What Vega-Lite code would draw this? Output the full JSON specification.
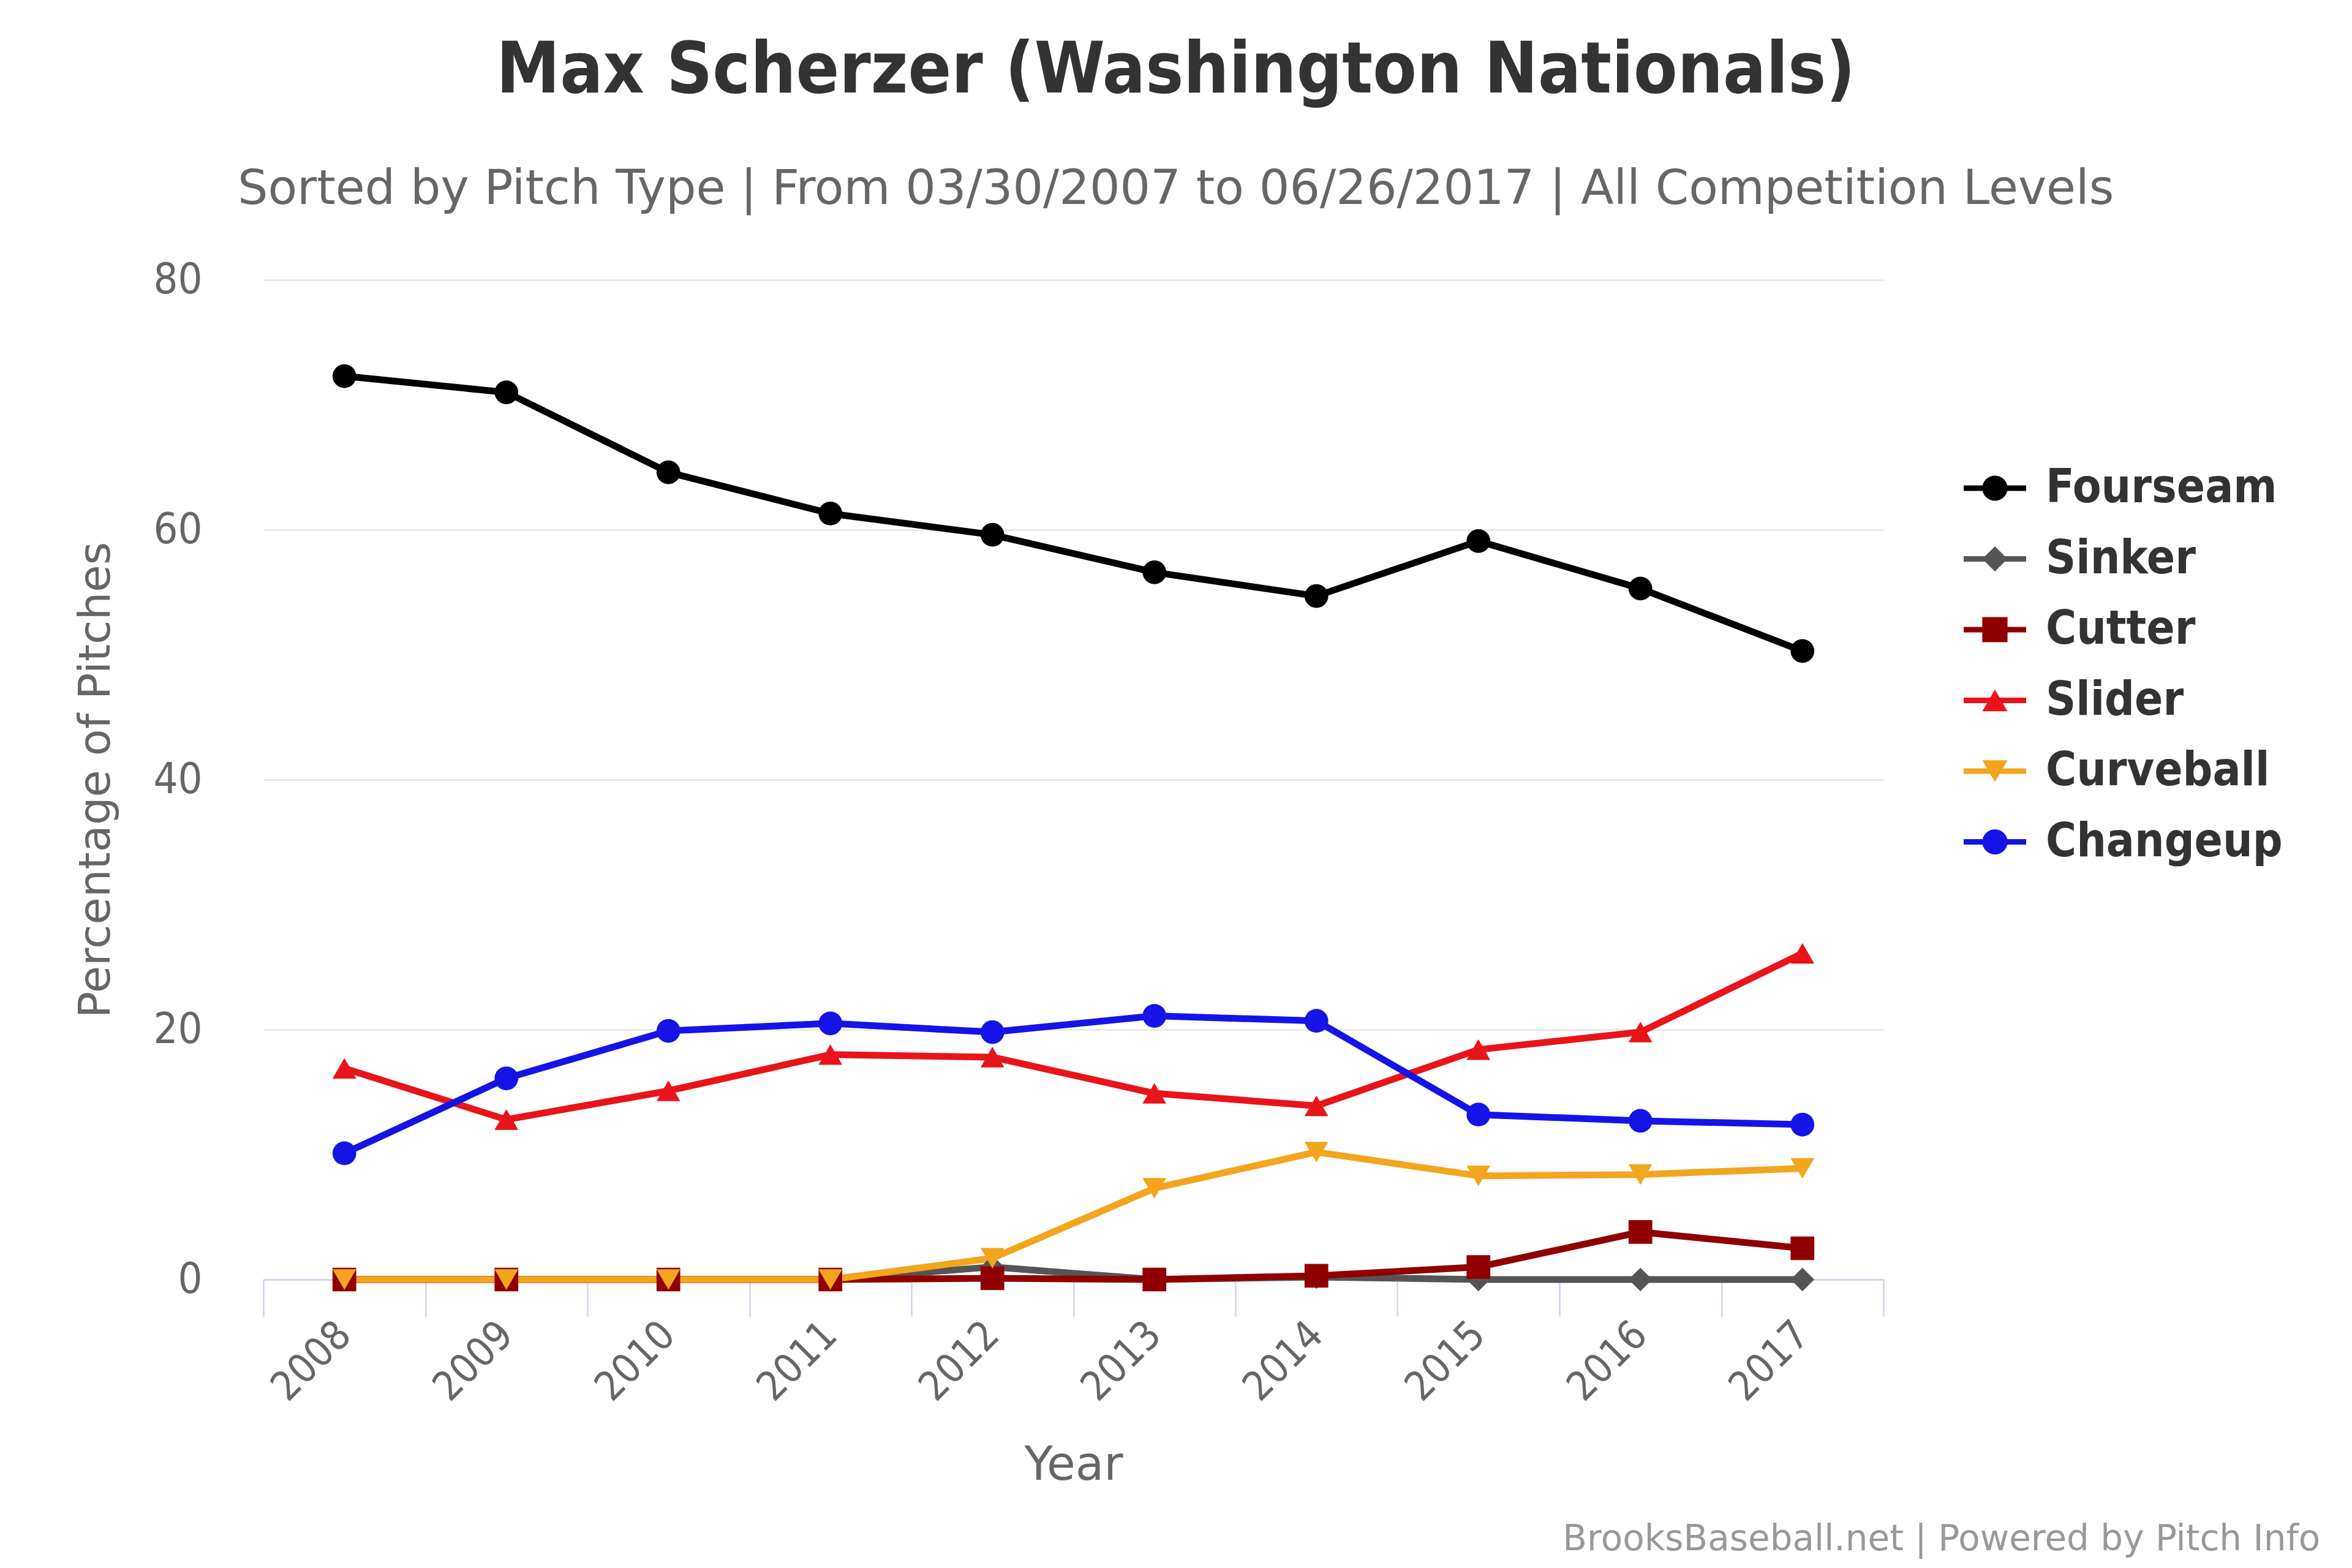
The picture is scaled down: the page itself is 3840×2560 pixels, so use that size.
{
  "$schema": "https://vega.github.io/schema/vega-lite/v6.json",
  "background": "white",
  "padding": {"left": 120, "top": 58, "right": 20, "bottom": 10},
  "title": {
    "text": "Max Scherzer (Washington Nationals)",
    "subtitle": "Sorted by Pitch Type | From 03/30/2007 to 06/26/2017 | All Competition Levels",
    "anchor": "middle",
    "frame": "bounds",
    "dx": -35,
    "font": "DejaVu Sans Condensed",
    "fontSize": 116,
    "fontWeight": "bold",
    "color": "#333333",
    "subtitleFont": "DejaVu Sans",
    "subtitleFontSize": 78,
    "subtitleColor": "#666666",
    "subtitlePadding": 96,
    "offset": 72
  },
  "vconcat": [
    {
      "width": 2645,
      "height": 1632,
      "title": {
        "text": "BrooksBaseball.net | Powered by Pitch Info",
        "orient": "bottom",
        "anchor": "end",
        "frame": "bounds",
        "font": "DejaVu Sans",
        "fontSize": 58,
        "fontWeight": "normal",
        "color": "#999999",
        "offset": 55,
        "dx": 558
      },
      "data": {
        "values": [
          {"year": 2008, "pitch": "Fourseam", "pct": 72.3},
          {"year": 2009, "pitch": "Fourseam", "pct": 71.0},
          {"year": 2010, "pitch": "Fourseam", "pct": 64.6},
          {"year": 2011, "pitch": "Fourseam", "pct": 61.3},
          {"year": 2012, "pitch": "Fourseam", "pct": 59.6},
          {"year": 2013, "pitch": "Fourseam", "pct": 56.6},
          {"year": 2014, "pitch": "Fourseam", "pct": 54.7},
          {"year": 2015, "pitch": "Fourseam", "pct": 59.1},
          {"year": 2016, "pitch": "Fourseam", "pct": 55.3},
          {"year": 2017, "pitch": "Fourseam", "pct": 50.3},
          {"year": 2008, "pitch": "Sinker", "pct": 0},
          {"year": 2009, "pitch": "Sinker", "pct": 0},
          {"year": 2010, "pitch": "Sinker", "pct": 0},
          {"year": 2011, "pitch": "Sinker", "pct": 0},
          {"year": 2012, "pitch": "Sinker", "pct": 1.0},
          {"year": 2013, "pitch": "Sinker", "pct": 0},
          {"year": 2014, "pitch": "Sinker", "pct": 0.2},
          {"year": 2015, "pitch": "Sinker", "pct": 0},
          {"year": 2016, "pitch": "Sinker", "pct": 0},
          {"year": 2017, "pitch": "Sinker", "pct": 0},
          {"year": 2008, "pitch": "Cutter", "pct": 0},
          {"year": 2009, "pitch": "Cutter", "pct": 0},
          {"year": 2010, "pitch": "Cutter", "pct": 0},
          {"year": 2011, "pitch": "Cutter", "pct": 0},
          {"year": 2012, "pitch": "Cutter", "pct": 0.1},
          {"year": 2013, "pitch": "Cutter", "pct": 0},
          {"year": 2014, "pitch": "Cutter", "pct": 0.3},
          {"year": 2015, "pitch": "Cutter", "pct": 1.0},
          {"year": 2016, "pitch": "Cutter", "pct": 3.8},
          {"year": 2017, "pitch": "Cutter", "pct": 2.5},
          {"year": 2008, "pitch": "Slider", "pct": 16.9},
          {"year": 2009, "pitch": "Slider", "pct": 12.8},
          {"year": 2010, "pitch": "Slider", "pct": 15.1},
          {"year": 2011, "pitch": "Slider", "pct": 18.0},
          {"year": 2012, "pitch": "Slider", "pct": 17.8},
          {"year": 2013, "pitch": "Slider", "pct": 14.9},
          {"year": 2014, "pitch": "Slider", "pct": 13.9},
          {"year": 2015, "pitch": "Slider", "pct": 18.4},
          {"year": 2016, "pitch": "Slider", "pct": 19.8},
          {"year": 2017, "pitch": "Slider", "pct": 26.1},
          {"year": 2008, "pitch": "Curveball", "pct": 0},
          {"year": 2009, "pitch": "Curveball", "pct": 0},
          {"year": 2010, "pitch": "Curveball", "pct": 0},
          {"year": 2011, "pitch": "Curveball", "pct": 0},
          {"year": 2012, "pitch": "Curveball", "pct": 1.7},
          {"year": 2013, "pitch": "Curveball", "pct": 7.3},
          {"year": 2014, "pitch": "Curveball", "pct": 10.2},
          {"year": 2015, "pitch": "Curveball", "pct": 8.3},
          {"year": 2016, "pitch": "Curveball", "pct": 8.4},
          {"year": 2017, "pitch": "Curveball", "pct": 8.9},
          {"year": 2008, "pitch": "Changeup", "pct": 10.1},
          {"year": 2009, "pitch": "Changeup", "pct": 16.1},
          {"year": 2010, "pitch": "Changeup", "pct": 19.9},
          {"year": 2011, "pitch": "Changeup", "pct": 20.5},
          {"year": 2012, "pitch": "Changeup", "pct": 19.8},
          {"year": 2013, "pitch": "Changeup", "pct": 21.1},
          {"year": 2014, "pitch": "Changeup", "pct": 20.7},
          {"year": 2015, "pitch": "Changeup", "pct": 13.2},
          {"year": 2016, "pitch": "Changeup", "pct": 12.7},
          {"year": 2017, "pitch": "Changeup", "pct": 12.4}
        ]
      },
      "encoding": {
        "x": {
          "field": "year",
          "type": "quantitative",
          "scale": {"domain": [2007.5, 2017.5], "nice": false, "zero": false},
          "axis": {
            "title": "Year",
            "values": [2007.5, 2008.5, 2009.5, 2010.5, 2011.5, 2012.5, 2013.5, 2014.5, 2015.5, 2016.5, 2017.5],
            "labelExpr": "datum.value < 2017 ? format(datum.value + 0.5, 'd') : ''",
            "labelOffset": 132,
            "labelAngle": -45,
            "labelAlign": "right",
            "labelBaseline": "middle",
            "labelFlush": false,
            "labelOverlap": false,
            "labelBound": false,
            "labelPadding": 20,
            "labelFont": "DejaVu Sans Condensed",
            "labelFontSize": 66,
            "labelColor": "#666666",
            "grid": false,
            "ticks": true,
            "tickSize": 60,
            "tickWidth": 2.5,
            "tickColor": "#ccd6eb",
            "domainColor": "#ccd6eb",
            "domainWidth": 2.5,
            "titleFont": "DejaVu Sans",
            "titleFontSize": 76,
            "titleFontWeight": "normal",
            "titleColor": "#666666",
            "titlePadding": 66
          }
        },
        "y": {
          "field": "pct",
          "type": "quantitative",
          "scale": {"domain": [0, 80], "nice": false},
          "axis": {
            "title": "Percentage of Pitches",
            "values": [0, 20, 40, 60, 80],
            "domain": false,
            "ticks": false,
            "grid": true,
            "gridColor": "#e6e6e6",
            "gridWidth": 2.5,
            "labelPadding": 100,
            "labelFont": "DejaVu Sans Condensed",
            "labelFontSize": 70,
            "labelColor": "#666666",
            "titleFont": "DejaVu Sans",
            "titleFontSize": 72,
            "titleFontWeight": "normal",
            "titleColor": "#666666",
            "titlePadding": 56
          }
        }
      },
      "layer": [
        {
          "mark": {"type": "line", "strokeWidth": 11, "strokeJoin": "round", "strokeCap": "round"},
          "encoding": {
            "color": {
              "field": "pitch",
              "type": "nominal",
              "sort": ["Fourseam", "Sinker", "Cutter", "Slider", "Curveball", "Changeup"],
              "scale": {
                "range": ["#000000", "#555555", "#900000", "#e8141a", "#f2a51d", "#1414e6"]
              },
              "legend": {
                "title": null,
                "orient": "none",
                "legendX": 2776,
                "legendY": 302,
                "padding": 0,
                "symbolType": "M-1.652,0H2.783",
                "symbolSize": 2116,
                "symbolStrokeWidth": 9,
                "labelFont": "DejaVu Sans Condensed",
                "labelFontSize": 76,
                "labelFontWeight": "bold",
                "labelColor": "#333333",
                "labelOffset": 58,
                "labelLimit": 800,
                "rowPadding": 39.5
              }
            }
          }
        },
        {
          "mark": {"type": "point", "filled": true, "opacity": 1, "size": 1500},
          "encoding": {
            "fill": {
              "field": "pitch",
              "type": "nominal",
              "scale": {
                "domain": ["Fourseam", "Sinker", "Cutter", "Slider", "Curveball", "Changeup"],
                "range": ["#000000", "#555555", "#900000", "#e8141a", "#f2a51d", "#1414e6"]
              },
              "legend": {
                "title": null,
                "orient": "none",
                "legendX": 2776,
                "legendY": 302,
                "padding": 0,
                "symbolSize": 1700,
                "symbolStrokeWidth": 0,
                "symbolOffset": 13,
                "labelFont": "DejaVu Sans Condensed",
                "labelFontSize": 76,
                "labelFontWeight": "bold",
                "labelExpr": "''",
                "labelOffset": 58,
                "labelLimit": 800,
                "rowPadding": 39.5
              }
            },
            "shape": {
              "field": "pitch",
              "type": "nominal",
              "scale": {
                "domain": ["Fourseam", "Sinker", "Cutter", "Slider", "Curveball", "Changeup"],
                "range": ["circle", "diamond", "square", "triangle-up", "triangle-down", "circle"]
              },
              "legend": {
                "title": null,
                "orient": "none",
                "legendX": 2776,
                "legendY": 302,
                "padding": 0,
                "symbolSize": 1700,
                "symbolStrokeWidth": 0,
                "symbolOffset": 13,
                "labelFont": "DejaVu Sans Condensed",
                "labelFontSize": 76,
                "labelFontWeight": "bold",
                "labelExpr": "''",
                "labelOffset": 58,
                "labelLimit": 800,
                "rowPadding": 39.5
              }
            }
          }
        }
      ]
    }
  ],
  "config": {
    "view": {"stroke": null}
  }
}
